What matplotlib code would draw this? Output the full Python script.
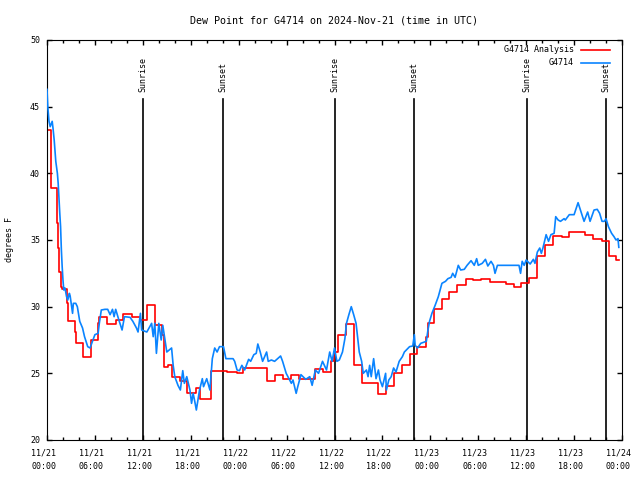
import matplotlib
matplotlib.use('Agg')
import matplotlib.pyplot as plt
import matplotlib.transforms as mtransforms
from matplotlib.lines import Line2D

plt.rcParams['font.family'] = 'DejaVu Sans Mono'
plt.rcParams['font.size'] = 6

# analysis (red): hours since 2024-11-21 00:00 UTC where the value changes
analysis_h = [0.0, 0.5, 1.2, 1.4, 1.55, 1.75, 1.9, 2.45, 2.6, 3.45, 3.6, 4.5, 5.5,
              6.4, 6.55, 7.55, 8.65, 9.55, 10.6, 11.65, 12.5, 13.5, 14.4, 14.6,
              15.2, 15.7, 16.6, 17.5, 18.6, 19.1, 20.5, 22.5, 23.8, 24.6, 27.5,
              28.5, 29.5, 30.5, 31.6, 33.6, 34.5, 35.6, 35.95, 36.45, 37.45, 38.4,
              39.4, 41.4, 42.4, 43.4, 44.5, 45.45, 46.35, 47.5, 47.7, 48.4, 49.4,
              50.4, 51.4, 52.5, 53.4, 54.4, 55.5, 57.5, 58.5, 59.4, 60.4, 61.4,
              62.4, 63.4, 64.5, 65.4, 67.4, 68.4, 69.5, 70.4, 71.3, 71.6]
analysis_v = [43.25, 38.9, 36.3, 34.4, 32.6, 31.5, 31.3, 30.3, 28.95, 28.1, 27.25,
              26.2, 27.5, 28.75, 29.2, 28.7, 29.0, 29.45, 29.2, 29.0, 30.1, 28.65,
              27.9, 25.5, 25.6, 24.7, 24.45, 23.5, 23.9, 23.1, 25.2, 25.1, 25.0,
              25.4, 24.4, 24.9, 24.55, 24.85, 24.55, 25.3, 25.1, 25.9, 26.6, 27.9,
              28.7, 25.6, 24.25, 23.45, 24.05, 25.0, 25.6, 26.45, 27.0, 27.75,
              28.75, 29.8, 30.55, 31.1, 31.6, 32.1, 32.0, 32.1, 31.85, 31.7, 31.5,
              31.8, 32.15, 33.8, 34.6, 35.3, 35.2, 35.6, 35.4, 35.1, 34.9, 33.8,
              33.5, 33.5]

# station observations (blue)
obs_h = [0.0, 0.1, 0.25, 0.4, 0.65, 0.75, 0.9, 1.0, 1.1, 1.3, 1.4, 1.5, 1.6, 1.7,
         1.8, 1.9, 2.0, 2.1, 2.25, 2.45, 2.6, 2.8, 2.9, 3.2, 3.3, 3.6, 3.8, 4.1,
         4.45, 4.7, 5.1, 5.4, 5.6, 6.0, 6.4, 6.55, 6.8, 7.25, 7.6, 7.9, 8.2, 8.4,
         8.6, 9.0, 9.4, 9.7, 10.4, 10.75, 11.2, 11.4, 11.7, 11.85, 12.5, 13.1,
         13.3, 13.5, 13.7, 14.0, 14.3, 14.5, 15.0, 15.6, 15.8, 16.0, 16.4, 16.7,
         17.0, 17.2, 17.5, 17.9, 18.1, 18.3, 18.5, 18.7, 19.1, 19.45, 19.6, 20.0,
         20.4, 20.7, 21.0, 21.3, 21.6, 22.1, 22.4, 23.3, 23.5, 23.8, 24.1, 24.4,
         24.75, 25.25, 25.5, 25.9, 26.2, 26.4, 26.7, 27.0, 27.5, 27.7, 28.1, 28.5,
         29.25, 29.5, 29.95, 30.6, 30.8, 31.2, 31.4, 31.8, 32.4, 32.9, 33.2, 33.6,
         34.0, 34.5, 35.0, 35.4, 35.7, 36.0, 36.3, 36.6, 37.0, 37.3, 37.5, 37.8,
         38.1, 38.4, 38.7, 39.1, 39.4, 39.6, 40.0, 40.2, 40.4, 40.6, 40.9, 41.2,
         41.5, 41.7, 42.0, 42.4, 42.5, 42.8, 43.1, 43.4, 43.7, 44.1, 44.5, 44.75,
         45.4, 45.8, 46.0, 46.1, 46.4, 46.8, 47.5, 47.7, 47.9, 48.2, 48.6, 49.0,
         49.45, 49.9, 50.2, 50.6, 50.8, 51.1, 51.5, 51.8, 52.25, 52.6, 53.1, 53.5,
         53.8, 54.0, 54.5, 54.9, 55.2, 55.6, 55.9, 56.1, 56.4, 59.1, 59.3, 59.5,
         59.75, 60.0, 60.5, 60.9, 61.1, 61.4, 61.7, 61.9, 62.1, 62.5, 62.8, 63.1,
         63.5, 63.7, 64.0, 64.3, 64.75, 64.9, 65.4, 66.0, 66.2, 66.5, 66.8, 67.25,
         67.7, 68.0, 68.5, 68.9, 69.2, 69.5, 69.8, 70.0, 70.3, 70.7, 71.0, 71.25,
         71.5, 71.6]
obs_v = [46.3, 45.0, 43.9, 43.5, 43.9, 43.4, 42.5, 41.75, 40.9, 40.0, 39.25, 38.1,
         37.0, 36.0, 34.25, 33.0, 32.0, 31.25, 31.4, 30.75, 30.5, 31.0, 30.8, 29.5,
         30.25, 30.25, 30.0, 28.9, 28.4, 27.75, 27.0, 26.9, 27.25, 27.9, 28.0,
         28.75, 29.75, 29.8, 29.8, 29.4, 29.8, 29.25, 29.8, 29.0, 28.25, 29.25,
         29.2, 28.9, 28.4, 28.1, 29.5, 28.25, 28.1, 28.75, 27.75, 28.75, 26.5,
         28.75, 27.5, 28.6, 26.6, 26.9, 25.6, 24.75, 24.1, 23.75, 25.2, 24.25,
         24.75, 23.75, 22.75, 23.5, 22.9, 22.25, 23.75, 24.6, 24.0, 24.6, 23.75,
         26.1, 26.9, 26.6, 27.0, 27.0, 26.1, 26.1, 25.9, 25.25, 25.2, 25.6, 25.25,
         26.05, 25.9, 26.4, 26.5, 27.2, 26.6, 25.9, 26.6, 25.9, 26.0, 25.9, 26.3,
         25.9, 25.0, 24.25, 24.5, 23.5, 24.0, 24.9, 24.55, 24.75, 24.1, 25.25,
         25.0, 25.9, 25.25, 26.6, 25.9, 26.9, 25.9, 26.0, 26.6, 27.6, 28.75, 29.4,
         30.0, 29.4, 28.75, 26.6, 25.9, 25.0, 25.25, 24.75, 25.6, 24.75, 26.1,
         24.6, 25.25, 24.5, 24.0, 25.0, 23.75, 24.5, 24.75, 25.4, 25.1, 25.9,
         26.25, 26.6, 27.0, 27.05, 27.9, 27.1, 26.9, 27.25, 27.4, 28.25, 28.9,
         29.5, 30.1, 30.75, 31.75, 31.9, 32.1, 32.2, 32.5, 32.2, 33.1, 32.75, 32.8,
         33.1, 33.45, 33.1, 33.6, 33.1, 33.25, 33.55, 33.05, 33.4, 33.1, 32.5,
         33.1, 33.1, 32.5, 33.4, 33.1, 33.5, 33.2, 33.55, 33.25, 34.1, 34.4, 34.0,
         34.4, 35.4, 34.9, 35.4, 35.5, 36.75, 36.5, 36.4, 36.6, 36.5, 36.9, 36.9,
         37.25, 37.8, 37.25, 36.4, 37.1, 36.4, 37.25, 37.3, 37.0, 36.4, 36.4, 36.6,
         36.0, 35.5, 35.25, 35.0, 35.1, 34.45]

sunrise_h = [12.05, 36.05, 60.05]
sunset_h = [22.05, 46.0, 69.95]

tick_h = list(range(0, 73, 6))
tick_labels = ['11/21\n00:00', '11/21\n06:00', '11/21\n12:00', '11/21\n18:00',
               '11/22\n00:00', '11/22\n06:00', '11/22\n12:00', '11/22\n18:00',
               '11/23\n00:00', '11/23\n06:00', '11/23\n12:00', '11/23\n18:00',
               '11/24\n00:00']

fig = plt.figure(figsize=(6.4, 4.8), dpi=100)
ax = fig.add_axes([47 / 640, 40 / 480, 575 / 640, 400 / 480])

for h in sunrise_h:
    ax.plot([h, h], [20, 45.6], color='black', lw=1.2, zorder=1)
    ax.text(h, 46.1, 'Sunrise', rotation=90, ha='center', va='bottom')
for h in sunset_h:
    ax.plot([h, h], [20, 45.6], color='black', lw=1.2, zorder=1)
    ax.text(h, 46.1, 'Sunset', rotation=90, ha='center', va='bottom')

ax.plot(analysis_h, analysis_v, color='#ff0000', lw=1.2, drawstyle='steps-post', zorder=2)
ax.plot(obs_h, obs_v, color='#0a84ff', lw=1.2, zorder=3)

ax.set_xlim(0, 72)
ax.set_ylim(20, 50)
ax.set_xticks(tick_h)
ax.set_xticklabels(tick_labels, linespacing=1.7)
ax.set_xticks(range(0, 73, 2), minor=True)
ax.set_yticks(range(20, 51, 5))
ax.tick_params(which='both', direction='in', top=True, right=True)
ax.tick_params(which='major', length=3.5, width=1)
ax.tick_params(which='minor', length=2, width=1)
ax.tick_params(axis='x', pad=6)
ax.tick_params(axis='y', pad=5)

shift = mtransforms.ScaledTranslation(-3.5 / 100, 0, fig.dpi_scale_trans)
for lab in ax.get_xticklabels():
    lab.set_transform(lab.get_transform() + shift)

ax.set_title('Dew Point for G4714 on 2024-Nov-21 (time in UTC)', pad=12)
ax.set_ylabel('degrees F')
ax.yaxis.set_label_coords(-0.058, 0.5)

# legend drawn by hand, labels right aligned as in gnuplot
ax.text(0.9165, 0.975, 'G4714 Analysis', transform=ax.transAxes, ha='right', va='center')
ax.add_line(Line2D([0.929, 0.979], [0.975, 0.975], transform=ax.transAxes,
                   color='#ff0000', lw=1.2))
ax.text(0.9165, 0.943, 'G4714', transform=ax.transAxes, ha='right', va='center')
ax.add_line(Line2D([0.929, 0.979], [0.943, 0.943], transform=ax.transAxes,
                   color='#0a84ff', lw=1.2))

fig.savefig('out.png', dpi=100)
